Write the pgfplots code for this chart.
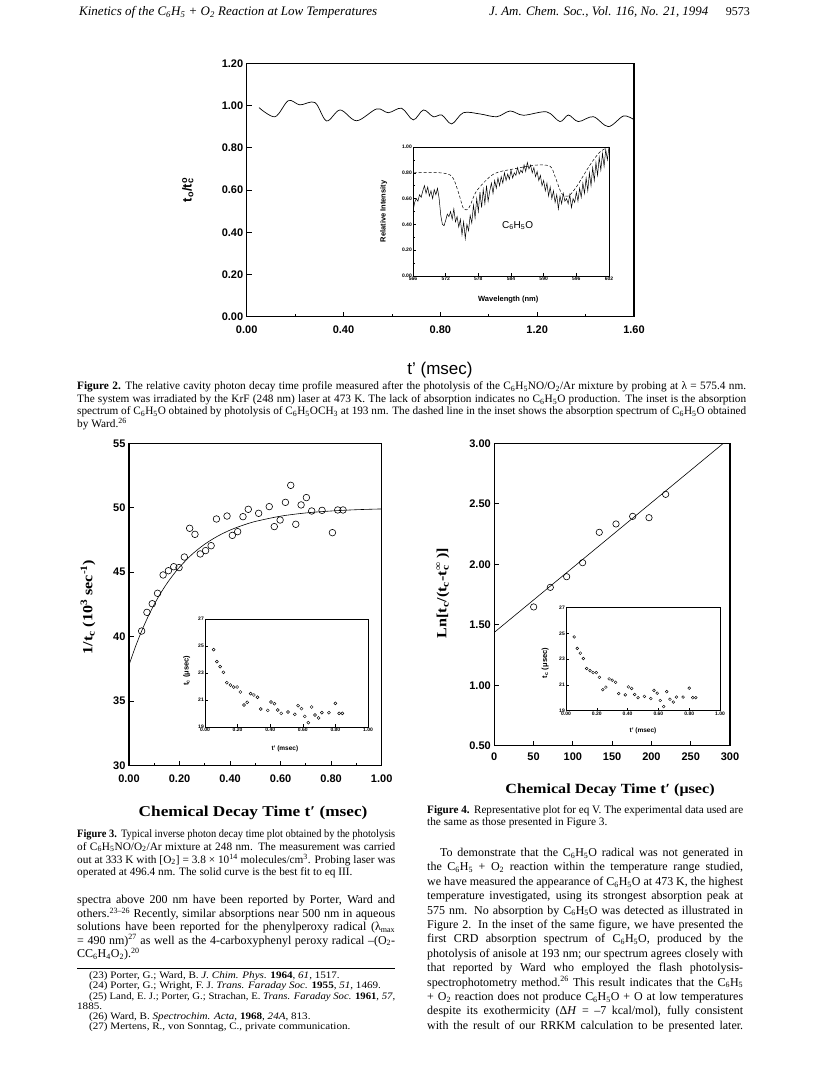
\documentclass[border=0pt]{standalone}
\usepackage{fontspec}
\setmainfont{Liberation Serif}
\newfontfamily\csans{Liberation Sans}
\newfontfamily\wserif[FakeStretch=1.15]{Liberation Serif}
\newfontfamily\fnserif[FakeStretch=1.12]{Liberation Serif}
\usepackage{graphicx}
\usepackage{pgfplots}
\usepackage{pgfplotstable}
\pgfplotsset{compat=1.18}

\newcommand\sub[1]{\textsubscript{#1}}
\newcommand\sps[1]{\textsuperscript{#1}}
\newsavebox\jbox
\newcommand\jline[2]{\sbox\jbox{#2}\ifdim\wd\jbox>#1\relax\resizebox{#1}{\ht\jbox}{\usebox\jbox}\else\makebox[#1][s]{#2}\fi}
\newcommand\J[4]{\node[anchor=base west,inner sep=0pt] at (#1,{1068-#2}) {\jline{#3pt}{#4}};}
\newcommand\Lf[3]{\node[anchor=base west,inner sep=0pt] at (#1,{1068-#2}) {#3};}
\newcommand\W[4]{\node[anchor=base west,inner sep=0pt] at (#1,{1068-#2}) {\resizebox{#3pt}{!}{#4}};}

\pgfplotstableread{
x y
0.050 40.44
0.071 41.89
0.092 42.56
0.113 43.37
0.135 44.79
0.156 45.12
0.177 45.43
0.198 45.36
0.219 46.18
0.240 48.41
0.261 47.94
0.282 46.42
0.303 46.68
0.325 47.06
0.346 49.13
0.388 49.36
0.409 47.86
0.430 48.15
0.451 49.31
0.472 49.88
0.513 49.57
0.555 50.09
0.575 48.54
0.598 49.05
0.619 50.42
0.640 51.74
0.660 48.72
0.681 50.22
0.702 50.79
0.723 49.75
0.764 49.80
0.805 48.07
0.826 49.83
0.847 49.83
}\recip

\pgfplotstableread{
x y
0.053 24.73
0.073 23.84
0.093 23.47
0.113 23.05
0.134 22.28
0.156 22.11
0.176 21.96
0.197 21.96
0.217 21.59
0.239 20.63
0.259 20.83
0.280 21.47
0.300 21.37
0.322 21.20
0.342 20.33
0.385 20.23
0.405 20.85
0.426 20.73
0.446 20.26
0.468 20.01
0.509 20.11
0.551 19.94
0.571 20.58
0.592 20.36
0.612 19.79
0.634 19.32
0.654 20.48
0.675 19.89
0.697 19.67
0.717 20.06
0.760 20.06
0.800 20.75
0.823 20.01
0.843 20.01
}\tcdata

\pgfplotsset{
  mainax/.style={scale only axis, anchor=south west,
    axis line style={line width=1.1pt}, tick style={line width=0.8pt,black},
    tick align=inside, tick pos=left, major tick length=5pt, minor tick length=3pt,
    /pgf/number format/assume math mode=true,
    tick label style={font=\csans\bfseries\fontsize{11}{12}\selectfont}},
  insetax/.style={scale only axis, anchor=south west,
    axis background/.style={fill=white},
    axis line style={line width=0.6pt}, tick style={line width=0.5pt,black},
    tick align=inside, tick pos=left, major tick length=2.5pt, minor tick length=1.5pt,
    /pgf/number format/assume math mode=true,
    tick label style={font=\csans\bfseries\fontsize{5}{6}\selectfont, inner sep=1pt}},
}

\begin{document}
\begin{tikzpicture}[x=1pt,y=1pt]
\fill[white] (0,0) rectangle (820,1068);
\path[use as bounding box] (0,0) rectangle (820,1068);

% ---------------- Figure 2 ----------------
\begin{axis}[mainax, at={(246.7pt,751.3pt)}, width=387.3pt, height=253.4pt,
  xmin=0, xmax=1.6, ymin=0, ymax=1.2,
  xtick={0,0.4,0.8,1.2,1.6}, xticklabels={0.00,0.40,0.80,1.20,1.60},
  minor xtick={0.2,0.6,1.0,1.4},
  ytick={0,0.2,0.4,0.6,0.8,1.0,1.2}, yticklabels={0.00,0.20,0.40,0.60,0.80,1.00,1.20},
  xticklabel style={yshift=-6pt},
  xlabel={t’ (msec)},
  xlabel style={font=\csans\fontsize{17}{19}\selectfont, at={(axis description cs:0.499,-0.21)}, anchor=center},
  ylabel={t\sub{o}/t\rlap{\sub{c}}\sps{o}},
  ylabel style={font=\csans\bfseries\fontsize{13}{15}\selectfont, at={(axis description cs:-0.152,0.5)}, anchor=center}]
\addplot[smooth, tension=0.55, line width=0.7pt] coordinates {
(0.051,0.990) (0.117,0.947) (0.172,1.023) (0.220,1.003) (0.282,1.014) (0.330,0.927)
(0.386,0.979) (0.454,0.928) (0.537,0.984) (0.585,0.966) (0.640,0.987) (0.688,0.932)
(0.730,0.979) (0.771,0.947) (0.806,0.955) (0.847,0.913) (0.895,0.966) (0.964,0.960)
(1.033,0.947) (1.088,0.974) (1.143,0.954) (1.239,0.970) (1.294,0.924) (1.329,0.955)
(1.370,0.924) (1.432,0.947) (1.494,0.900) (1.556,0.950) (1.597,0.935)};
\end{axis}

\begin{axis}[insetax, at={(413pt,792pt)}, width=196pt, height=129pt,
  xmin=566, xmax=602, ymin=0, ymax=1,
  xtick={566,572,578,584,590,596,602},
  ytick={0,0.2,0.4,0.6,0.8,1.0}, yticklabels={0.00,0.20,0.40,0.60,0.80,1.00},
  minor y tick num=1,
  xlabel={Wavelength (nm)},
  xlabel style={font=\csans\bfseries\fontsize{7.5}{9}\selectfont, at={(axis description cs:0.486,-0.186)}, anchor=center},
  ylabel={Relative Intensity},
  ylabel style={font=\csans\bfseries\fontsize{7.5}{9}\selectfont, at={(axis description cs:-0.150,0.5)}, anchor=center}]
\addplot[line width=0.5pt] coordinates {
(566.0,0.50) (566.3,0.57) (566.6,0.60) (566.9,0.58) (567.2,0.63) (567.5,0.61) (567.8,0.66)
(568.1,0.70) (568.4,0.64) (568.7,0.69) (569.0,0.62) (569.3,0.66) (569.6,0.60) (569.9,0.67)
(570.2,0.63) (570.5,0.68) (570.8,0.60) (571.1,0.47) (571.4,0.40) (571.7,0.39) (572.0,0.43)
(572.3,0.48) (572.6,0.46) (572.9,0.50) (573.2,0.44) (573.5,0.52) (573.8,0.42) (574.1,0.46)
(574.4,0.38) (574.7,0.44) (575.0,0.32) (575.3,0.42) (575.6,0.29) (575.9,0.40) (576.2,0.35)
(576.5,0.47) (576.8,0.41) (577.1,0.55) (577.4,0.45) (577.7,0.60) (578.0,0.50) (578.3,0.65)
(578.6,0.53) (578.9,0.67) (579.2,0.56) (579.5,0.70) (579.8,0.58) (580.1,0.66) (580.4,0.72)
(580.7,0.64) (581.0,0.74) (581.3,0.68) (581.6,0.76) (581.9,0.70) (582.2,0.77) (582.5,0.72)
(582.8,0.80) (583.1,0.74) (583.4,0.79) (583.7,0.75) (584.0,0.82) (584.3,0.76) (584.6,0.80)
(584.9,0.78) (585.2,0.84) (585.5,0.79) (585.8,0.82) (586.1,0.80) (586.4,0.86) (586.7,0.81)
(587.0,0.88) (587.3,0.83) (587.6,0.86) (587.9,0.80) (588.2,0.84) (588.5,0.77) (588.8,0.81)
(589.1,0.74) (589.4,0.78) (589.7,0.70) (590.0,0.74) (590.3,0.66) (590.6,0.72) (590.9,0.62)
(591.2,0.69) (591.5,0.60) (591.8,0.66) (592.1,0.57) (592.4,0.63) (592.7,0.52) (593.0,0.62)
(593.3,0.56) (593.6,0.64) (593.9,0.58) (594.2,0.60) (594.5,0.56) (594.8,0.63) (595.1,0.53)
(595.4,0.60) (595.7,0.57) (596.0,0.65) (596.3,0.58) (596.6,0.68) (596.9,0.61) (597.2,0.72)
(597.5,0.64) (597.8,0.76) (598.1,0.66) (598.4,0.80) (598.7,0.70) (599.0,0.84) (599.3,0.74)
(599.6,0.88) (599.9,0.78) (600.2,0.92) (600.5,0.82) (600.8,0.95) (601.1,0.85) (601.4,0.98)
(601.7,0.90) (602.0,1.00)};
\addplot[smooth, line width=0.5pt, dash pattern=on 3pt off 2pt] coordinates {
(566.1,0.80) (571.0,0.80) (573.2,0.77) (574.4,0.64) (575.3,0.52) (576.3,0.53)
(577.7,0.66) (580.8,0.79) (584.5,0.83) (588.7,0.86) (591.2,0.85) (592.1,0.77)
(593.3,0.64) (594.5,0.62) (596.0,0.69) (598.5,0.86) (600.3,0.96) (601.9,1.00)};
\node[font=\csans\fontsize{10}{12}\selectfont] at (axis cs:585.2,0.39) {C\sub{6}H\sub{5}O};
\end{axis}

% ---------------- Figure 3 ----------------
\begin{axis}[mainax, at={(129pt,302.3pt)}, width=252.7pt, height=322.4pt,
  xmin=0, xmax=1, ymin=30, ymax=55,
  xtick={0,0.2,0.4,0.6,0.8,1.0}, xticklabels={0.00,0.20,0.40,0.60,0.80,1.00},
  minor xtick={0.1,0.3,0.5,0.7,0.9},
  ytick={30,35,40,45,50,55}, yticklabels={30,35,40,45,50,55},
  xticklabel style={yshift=-6pt},
  xlabel={Chemical Decay Time t′ (msec)},
  xlabel style={font=\wserif\bfseries\fontsize{15}{17}\selectfont, at={(axis description cs:0.491,-0.147)}, anchor=center},
  ylabel={1/t\sub{c} (10\sps{3} sec\sps{-1})},
  ylabel style={font=\wserif\bfseries\fontsize{14}{16}\selectfont, at={(axis description cs:-0.162,0.492)}, anchor=center}]
\addplot[line width=0.6pt, smooth] coordinates {
(0,37.80) (0.025,39.20) (0.05,40.44) (0.075,41.54) (0.1,42.51) (0.125,43.37) (0.15,44.13)
(0.175,44.80) (0.2,45.40) (0.25,46.40) (0.3,47.18) (0.35,47.79) (0.4,48.27) (0.45,48.64)
(0.5,48.94) (0.6,49.35) (0.7,49.60) (0.8,49.75) (0.9,49.85) (1.0,49.91)};
\addplot[only marks, mark=o, mark size=3.3pt, mark options={line width=0.6pt}] table[x=x,y=y] {\recip};
\end{axis}

\begin{axis}[insetax, at={(205pt,341pt)}, width=163pt, height=108pt,
  xmin=0, xmax=1, ymin=19, ymax=27,
  xtick={0,0.2,0.4,0.6,0.8,1.0}, xticklabels={0.00,0.20,0.40,0.60,0.80,1.00},
  ytick={19,21,23,25,27}, yticklabels={19,21,23,25,27},
  xlabel={t’ (msec)},
  xlabel style={font=\csans\bfseries\fontsize{6.5}{8}\selectfont, at={(axis description cs:0.49,-0.204)}, anchor=center},
  ylabel={t\sub{c} (μsec)},
  ylabel style={font=\csans\bfseries\fontsize{7.5}{9}\selectfont, at={(axis description cs:-0.112,0.52)}, anchor=center}]
\addplot[only marks, mark=o, mark size=1.5pt, mark options={line width=0.45pt}] table[x=x,y=y] {\tcdata};
\end{axis}

% ---------------- Figure 4 ----------------
\begin{axis}[mainax, at={(494.3pt,322.3pt)}, width=235.7pt, height=302.4pt,
  xmin=0, xmax=300, ymin=0.5, ymax=3.0,
  xtick={0,50,100,150,200,250,300}, xticklabels={0,50,100,150,200,250,300},
  ytick={0.5,1.0,1.5,2.0,2.5,3.0}, yticklabels={0.50,1.00,1.50,2.00,2.50,3.00},
  xticklabel style={yshift=-4pt},
  xlabel={Chemical Decay Time t′ (μsec)},
  xlabel style={font=\wserif\bfseries\fontsize{14}{16}\selectfont, at={(axis description cs:0.491,-0.146)}, anchor=center},
  ylabel={Ln[t\sub{c}/(t\sub{c}-t\rlap{\sub{c}}\sps{∞} )]},
  ylabel style={font=\wserif\bfseries\fontsize{14}{16}\selectfont, at={(axis description cs:-0.218,0.505)}, anchor=center}]
\addplot[line width=0.6pt] coordinates {(0,1.437) (300,3.045)};
\addplot[only marks, mark=o, mark size=3.2pt, mark options={line width=0.6pt}] coordinates {
(50.1,1.647) (71.3,1.809) (92.1,1.897) (112.4,2.013) (133.6,2.264)
(154.9,2.333) (176.1,2.396) (196.9,2.385) (218.1,2.578)};
\end{axis}

\begin{axis}[insetax, at={(566pt,357.3pt)}, width=154pt, height=103pt,
  xmin=0, xmax=1, ymin=19, ymax=27,
  xtick={0,0.2,0.4,0.6,0.8,1.0}, xticklabels={0.00,0.20,0.40,0.60,0.80,1.00},
  ytick={19,21,23,25,27}, yticklabels={19,21,23,25,27},
  xlabel={t’ (msec)},
  xlabel style={font=\csans\bfseries\fontsize{6.5}{8}\selectfont, at={(axis description cs:0.5,-0.197)}, anchor=center},
  ylabel={t\sub{c} (μsec)},
  ylabel style={font=\csans\bfseries\fontsize{7.5}{9}\selectfont, at={(axis description cs:-0.136,0.463)}, anchor=center}]
\addplot[only marks, mark=o, mark size=1.4pt, mark options={line width=0.45pt}] table[x=x,y=y] {\tcdata};
\end{axis}

% ---------------- Page text ----------------
\begin{scope}[every node/.style={font=\itshape\fontsize{12}{14}\selectfont}]
\W{79}{16}{298}{Kinetics of the C\sub{6}H\sub{5} + O\sub{2} Reaction at Low Temperatures}
\W{489}{16}{219}{J. Am. Chem. Soc., Vol. 116, No. 21, 1994}
\end{scope}
\node[anchor=base east,inner sep=0pt,font=\fontsize{12}{14}\selectfont] at (750,{1068-16}) {9573};

\begin{scope}[every node/.style={font=\fontsize{11.3}{12.5}\selectfont}]
% Figure 2 caption
\J{77}{390}{669}{\textbf{Figure 2.}\hspace{0.4em}The relative cavity photon decay time profile measured after the photolysis of the C\sub{6}H\sub{5}NO/O\sub{2}/Ar mixture by probing at λ = 575.4 nm.}
\J{77}{402.5}{669}{The system was irradiated by the KrF (248 nm) laser at 473 K. The lack of absorption indicates no C\sub{6}H\sub{5}O production. The inset is the absorption}
\J{77}{415}{669}{spectrum of C\sub{6}H\sub{5}O obtained by photolysis of C\sub{6}H\sub{5}OCH\sub{3} at 193 nm. The dashed line in the inset shows the absorption spectrum of C\sub{6}H\sub{5}O obtained}
\Lf{77}{427.5}{by Ward.\sps{26}}
% Figure 3 caption
\J{77}{837.5}{318}{\textbf{Figure 3.}\hspace{0.4em}Typical inverse photon decay time plot obtained by the photolysis}
\J{77}{850.3}{318}{of C\sub{6}H\sub{5}NO/O\sub{2}/Ar mixture at 248 nm. The measurement was carried}
\J{77}{863.1}{318}{out at 333 K with [O\sub{2}] = 3.8 × 10\sps{14} molecules/cm\sps{3}. Probing laser was}
\Lf{77}{875.9}{operated at 496.4 nm. The solid curve is the best fit to eq III.}
% Figure 4 caption
\J{427}{813.5}{316}{\textbf{Figure 4.}\hspace{0.4em}Representative plot for eq V. The experimental data used are}
\Lf{427}{826}{the same as those presented in Figure 3.}
\end{scope}

\begin{scope}[every node/.style={font=\fontsize{12}{14}\selectfont}]
\J{77}{904}{318}{spectra above 200 nm have been reported by Porter, Ward and}
\J{77}{917.4}{318}{others.\sps{23–26} Recently, similar absorptions near 500 nm in aqueous}
\J{77}{930.8}{318}{solutions have been reported for the phenylperoxy radical (λ\sub{max}}
\J{77}{944.2}{318}{= 490 nm)\sps{27} as well as the 4-carboxyphenyl peroxy radical –(O\sub{2}-}
\Lf{77}{957.6}{CC\sub{6}H\sub{4}O\sub{2}).\sps{20}}

\J{440}{856.5}{303}{To demonstrate that the C\sub{6}H\sub{5}O radical was not generated in}
\J{427}{870.9}{316}{the C\sub{6}H\sub{5} + O\sub{2} reaction within the temperature range studied,}
\J{427}{885.3}{316}{we have measured the appearance of C\sub{6}H\sub{5}O at 473 K, the highest}
\J{427}{899.7}{316}{temperature investigated, using its strongest absorption peak at}
\J{427}{914.1}{316}{575 nm. No absorption by C\sub{6}H\sub{5}O was detected as illustrated in}
\J{427}{928.5}{316}{Figure 2. In the inset of the same figure, we have presented the}
\J{427}{942.9}{316}{first CRD absorption spectrum of C\sub{6}H\sub{5}O, produced by the}
\J{427}{957.3}{316}{photolysis of anisole at 193 nm; our spectrum agrees closely with}
\J{427}{971.7}{316}{that reported by Ward who employed the flash photolysis-}
\J{427}{986.1}{316}{spectrophotometry method.\sps{26} This result indicates that the C\sub{6}H\sub{5}}
\J{427}{1000.5}{316}{+ O\sub{2} reaction does not produce C\sub{6}H\sub{5}O + O at low temperatures}
\J{427}{1014.9}{316}{despite its exothermicity (Δ\textit{H} = –7 kcal/mol), fully consistent}
\J{427}{1029.3}{316}{with the result of our RRKM calculation to be presented later.}
\end{scope}

\draw[line width=0.6pt] (77,{1068-968.3}) -- (395,{1068-968.3});
\begin{scope}[every node/.style={font=\fnserif\fontsize{9.9}{10.3}\selectfont}]
\Lf{89}{978.5}{(23) Porter, G.; Ward, B. \textit{J. Chim. Phys.} \textbf{1964}, \textit{61}, 1517.}
\Lf{89}{988.8}{(24) Porter, G.; Wright, F. J. \textit{Trans. Faraday Soc.} \textbf{1955}, \textit{51}, 1469.}
\J{89}{999.1}{306}{(25) Land, E. J.; Porter, G.; Strachan, E. \textit{Trans. Faraday Soc.} \textbf{1961}, \textit{57},}
\Lf{77}{1009.4}{1885.}
\Lf{89}{1019.7}{(26) Ward, B. \textit{Spectrochim. Acta}, \textbf{1968}, \textit{24A}, 813.}
\Lf{89}{1030}{(27) Mertens, R., von Sonntag, C., private communication.}
\end{scope}
\end{tikzpicture}
\end{document}
